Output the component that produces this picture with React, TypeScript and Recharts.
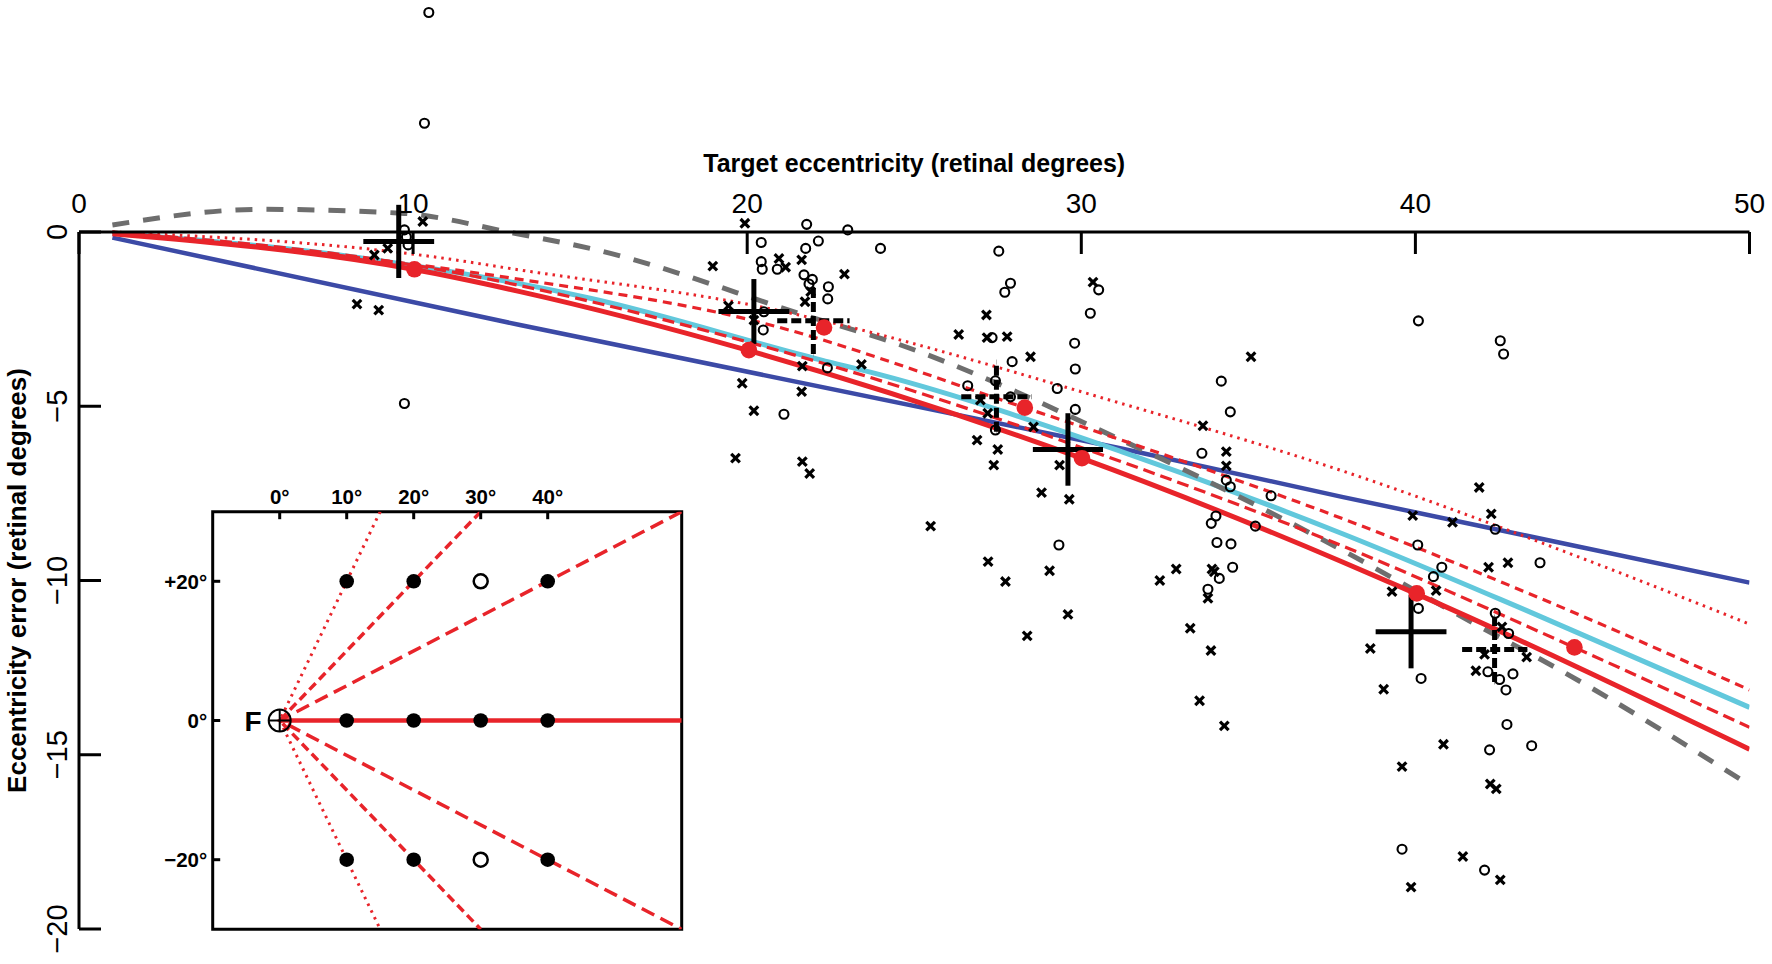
import React from 'react';
import { ComposedChart, Line, Scatter, XAxis, YAxis, ErrorBar, ReferenceArea } from 'recharts';

const FONT = '"Liberation Sans", Arial, Helvetica, sans-serif';

// ---------- main chart axes ----------
const xTicks = [0, 10, 20, 30, 40, 50];
const yTicks = [0, -5, -10, -15, -20];

// ---------- model curves (x = target eccentricity, y = eccentricity error) ----------
const blueLine = [[1, -0.16], [13.2, -2.67], [31.2, -6.21], [37.8, -7.6], [50, -10.06]];
const redSolidLine = [[1, -0.05], [10, -1.07], [13.2, -1.71], [20, -3.39], [30, -6.49], [37.8, -9.46], [40, -10.37], [50, -14.84]];
const redDottedLine = [[1, 0], [10.6, -0.71], [13.2, -1.09], [20.1, -2.09], [31.2, -4.92], [37.8, -6.85], [45.5, -9.55], [50, -11.25]];
const redShortDashLine = [[1, 0], [13, -1.33], [20, -2.5], [28.3, -5.04], [31.2, -5.97], [37.75, -8.2], [44.33, -10.75], [50, -13.14]];
const redLongDashLine = [[1, 0], [10, -0.95], [20, -3.15], [31.2, -6.59], [37.75, -8.98], [44.78, -11.93], [50, -14.21]];
const cyanLine = [[1, -0.03], [8.5, -0.75], [15.3, -1.9], [22.2, -3.67], [24, -4.1], [31.2, -6.3], [37.8, -8.65], [43.3, -10.85], [50, -13.64]];
const grayDashedLine = [[1, 0.2], [5.45, 0.65], [9.64, 0.54], [13, -0.03], [15.3, -0.47], [22.2, -2.53], [24, -3.05], [31.2, -5.97], [37.15, -8.79], [41.94, -11.33], [44.33, -12.57], [50, -15.87]];

// ---------- red mean dots ----------
const redDots = [[10.04, -1.07], [20.05, -3.39], [22.3, -2.74], [28.31, -5.04], [30.02, -6.49], [40.04, -10.37], [44.76, -11.92]];

// ---------- means with SD crosses: [x, y, sdX, sdY] ----------
const solidCrosses = [[9.57, -0.27, 1.06, 1.05], [20.2, -2.28, 1.06, 0.93], [29.6, -6.24, 1.05, 1.04], [39.87, -11.47, 1.06, 1.05]];
const dashedCrosses = [[21.98, -2.55, 1.08, 0.95], [27.46, -4.73, 1.05, 1.0], [42.37, -11.98, 0.97, 0.93]];

// ---------- individual responses ----------
const openCircles = [
  [10.47, 6.3], [10.34, 3.12], [9.74, 0.06], [9.8, -0.14], [9.85, -0.37], [9.74, -4.92],
  [21.78, 0.22], [23.01, 0.06], [20.42, -0.3], [22.13, -0.26], [21.75, -0.47], [23.99, -0.47], [20.42, -0.85], [20.45, -1.07],
  [20.9, -1.07], [21.7, -1.23], [21.95, -1.36], [22.43, -1.57], [21.85, -1.49], [22.41, -1.92], [20.5, -2.29], [20.48, -2.81],
  [22.4, -3.9], [21.1, -5.23],
  [27.53, -0.55], [27.88, -1.47], [27.71, -1.73], [30.52, -1.66], [30.27, -2.33], [27.33, -3.03], [29.8, -3.19], [27.93, -3.72],
  [29.82, -3.93], [27.43, -4.27], [26.6, -4.41], [29.28, -4.49], [27.88, -4.73], [29.82, -5.09], [27.43, -5.68], [29.33, -8.98],
  [34.19, -4.28], [34.46, -5.16], [33.61, -6.35], [34.34, -7.12], [34.46, -7.31], [35.68, -7.57], [34.03, -8.15], [33.89, -8.36],
  [35.21, -8.44], [34.06, -8.91], [34.48, -8.95], [34.53, -9.62], [34.13, -9.94], [33.79, -10.25],
  [40.09, -2.55], [42.54, -3.12], [42.64, -3.5], [42.39, -8.53], [40.07, -8.98], [43.73, -9.49], [40.79, -9.62], [40.54, -9.89],
  [40.09, -10.8], [42.39, -10.94], [42.79, -11.52], [42.17, -12.62], [42.52, -12.84], [42.92, -12.68], [40.17, -12.81], [42.71, -13.14],
  [42.74, -14.13], [42.22, -14.86], [43.48, -14.74], [39.6, -17.71], [42.07, -18.31],
];
const crossMarks = [
  [10.29, 0.3], [9.24, -0.47], [8.84, -0.66], [8.32, -2.07], [8.97, -2.24],
  [19.93, 0.25], [18.97, -0.98], [20.95, -0.76], [21.15, -1.01], [21.63, -0.8], [22.91, -1.21], [21.9, -1.71], [21.73, -2.0],
  [19.44, -2.12], [20.2, -2.53], [23.42, -3.8], [21.65, -3.85], [19.85, -4.34], [21.63, -4.58], [20.2, -5.13], [19.65, -6.49],
  [21.65, -6.59], [21.87, -6.93],
  [30.35, -1.44], [27.16, -2.38], [26.33, -2.94], [27.18, -3.03], [27.78, -3.0], [28.48, -3.58], [26.98, -4.82], [27.2, -5.2],
  [28.57, -5.59], [26.88, -5.97], [27.5, -6.24], [27.38, -6.69], [29.35, -6.69], [28.81, -7.48], [29.64, -7.67], [25.49, -8.44],
  [27.21, -9.46], [29.05, -9.72], [27.73, -10.03], [29.6, -10.97], [28.38, -11.59],
  [35.08, -3.58], [33.64, -5.56], [34.34, -6.3], [34.34, -6.71], [32.84, -9.67], [33.91, -9.67], [33.98, -9.75], [32.35, -10.0],
  [33.79, -10.51], [33.26, -11.37], [33.88, -12.01], [33.54, -13.45], [34.28, -14.17],
  [41.91, -7.33], [42.27, -8.09], [39.92, -8.14], [41.11, -8.33], [42.19, -9.62], [42.77, -9.49], [39.3, -10.32], [40.62, -10.29],
  [42.59, -11.33], [38.65, -11.95], [42.07, -12.12], [43.33, -12.2], [41.81, -12.59], [39.05, -13.12], [40.84, -14.7], [39.6, -15.34],
  [42.24, -15.84], [42.42, -15.98], [41.42, -17.92], [42.54, -18.59], [39.87, -18.8],
];

// ---------- inset (target layout in visual field) ----------
const insetXTicks = [0, 10, 20, 30, 40];
const insetYTicks = [20, 0, -20];
const fixation = [[0, 0]];
const filledTargets = [[10, 20], [20, 20], [40, 20], [10, 0], [20, 0], [30, 0], [40, 0], [10, -20], [20, -20], [40, -20]];
const openTargets = [[30, 20], [30, -20]];
const meridian0 = [[0, 0], [60, 0]];
const meridianDotted = [[15, 30], [0, 0], [15, -30]];
const meridianShortDash = [[30, 30], [0, 0], [30, -30]];
const meridianLongDash = [[60, 30], [0, 0], [60, -30]];

// ---------- helpers ----------
const pts = (a: number[][]) => a.map(([x, y]) => ({ x, y }));
const crossPts = (a: number[][]) => a.map(([x, y, ex, ey]) => ({ x, y, ex, ey }));

const RED = '#e8242a';
const BLUE = '#3c4aa6';
const CYAN = '#62c8dc';
const GRAY = '#6e6e6e';

const OpenCircle = (p: any) => (
  <circle cx={p.cx} cy={p.cy} r={4.5} fill="none" stroke="#000" strokeWidth={2.1} />
);
const XMark = (p: any) => {
  const s = 4.3;
  return (
    <g stroke="#000" strokeWidth={3.2}>
      <line x1={p.cx - s} y1={p.cy - s} x2={p.cx + s} y2={p.cy + s} />
      <line x1={p.cx - s} y1={p.cy + s} x2={p.cx + s} y2={p.cy - s} />
    </g>
  );
};
const RedDot = (p: any) => <circle cx={p.cx} cy={p.cy} r={8.3} fill={RED} />;
const NoMark = () => <g />;
const FilledTarget = (p: any) => <circle cx={p.cx} cy={p.cy} r={7.3} fill="#000" />;
const OpenTarget = (p: any) => <circle cx={p.cx} cy={p.cy} r={7} fill="#fff" stroke="#000" strokeWidth={2.5} />;
const Fixation = (p: any) => (
  <g>
    <circle cx={p.cx} cy={p.cy} r={11} fill="none" stroke="#000" strokeWidth={2} />
    <line x1={p.cx - 11} y1={p.cy} x2={p.cx + 11} y2={p.cy} stroke="#000" strokeWidth={2} />
    <line x1={p.cx} y1={p.cy - 11} x2={p.cx} y2={p.cy + 11} stroke="#000" strokeWidth={2} />
    <text x={p.cx - 18} y={p.cy + 10} textAnchor="end" fontSize={28} fontWeight="bold" fill="#000" fontFamily={FONT}>F</text>
  </g>
);

const YTick = (p: any) => {
  const v = p.payload.value;
  const s = v < 0 ? `\u2212${Math.abs(v)}` : `${v}`;
  return (
    <text x={p.x} y={p.y} transform={`rotate(-90 ${p.x} ${p.y})`} textAnchor="middle" dominantBaseline="central"
      fontSize={29} fill="#000" fontFamily={FONT}>{s}</text>
  );
};
const degFmt = (v: number) => (v > 0 ? `+${v}°` : v < 0 ? `\u2212${Math.abs(v)}°` : `${v}°`);
const degFmtX = (v: number) => `${v}°`;

const lineCommon = { dot: false, activeDot: false, isAnimationActive: false, dataKey: 'y', legendType: 'none' as const };

export default function App() {
  const layer: React.CSSProperties = { position: 'absolute', left: 0, top: 0 };
  return (
    <div style={{ position: 'absolute', left: 0, top: 0, width: 1772, height: 964, background: '#fff', fontFamily: FONT, overflow: 'hidden' }}>
      {/* data layer */}
      <div style={layer}>
        <ComposedChart width={1772} height={964} margin={{ top: 2, right: 22.5, bottom: 35, left: 79 }}>
          <XAxis type="number" dataKey="x" domain={[0, 50]} hide allowDataOverflow height={0} />
          <YAxis type="number" dataKey="y" domain={[-20, 6.6]} hide allowDataOverflow width={0} />
          <Scatter data={pts(openCircles)} shape={OpenCircle} isAnimationActive={false} />
          <Scatter data={pts(crossMarks)} shape={XMark} isAnimationActive={false} />
          <Line {...lineCommon} data={pts(blueLine)} type="linear" stroke={BLUE} strokeWidth={4.5} />
          <Line {...lineCommon} data={pts(cyanLine)} type="monotone" stroke={CYAN} strokeWidth={5} />
          <Line {...lineCommon} data={pts(grayDashedLine)} type="monotone" stroke={GRAY} strokeWidth={5} strokeDasharray="17 14" />
          <Line {...lineCommon} data={pts(redDottedLine)} type="monotone" stroke={RED} strokeWidth={3} strokeDasharray="2.5 5" />
          <Line {...lineCommon} data={pts(redShortDashLine)} type="monotone" stroke={RED} strokeWidth={3.2} strokeDasharray="9 6" />
          <Line {...lineCommon} data={pts(redLongDashLine)} type="monotone" stroke={RED} strokeWidth={3.2} strokeDasharray="12 6" />
          <Line {...lineCommon} data={pts(redSolidLine)} type="monotone" stroke={RED} strokeWidth={5} />
          <Scatter data={crossPts(solidCrosses)} shape={NoMark} isAnimationActive={false}>
            <ErrorBar dataKey="ex" direction="x" width={0} stroke="#000" strokeWidth={5} />
            <ErrorBar dataKey="ey" direction="y" width={0} stroke="#000" strokeWidth={5} />
          </Scatter>
          <Scatter data={crossPts(dashedCrosses)} shape={NoMark} isAnimationActive={false}>
            <ErrorBar dataKey="ex" direction="x" width={0} stroke="#000" strokeWidth={5} strokeDasharray="10 4" />
            <ErrorBar dataKey="ey" direction="y" width={0} stroke="#000" strokeWidth={5} strokeDasharray="10 4" />
          </Scatter>
          <Scatter data={pts(redDots)} shape={RedDot} isAnimationActive={false} />
        </ComposedChart>
      </div>

      {/* axes layer */}
      <div style={layer}>
        <ComposedChart width={1772} height={964} margin={{ top: 140, right: 22.5, bottom: 35, left: 9 }}>
          <XAxis type="number" dataKey="x" orientation="top" domain={[0, 50]} ticks={xTicks} interval={0} allowDataOverflow
            height={92} tickSize={-22} tickMargin={41}
            axisLine={{ stroke: '#000', strokeWidth: 3 }} tickLine={{ stroke: '#000', strokeWidth: 3 }}
            tick={{ fill: '#000', fontSize: 28, fontFamily: FONT }}
            label={{ value: 'Target eccentricity (retinal degrees)', position: 'insideTop', offset: 14,
              style: { fontWeight: 'bold', fontSize: 25, fill: '#000', fontFamily: FONT } }} />
          <YAxis type="number" dataKey="y" domain={[-20, 0]} ticks={yTicks} interval={0} allowDataOverflow
            width={70} tickSize={-22} tickMargin={44}
            axisLine={{ stroke: '#000', strokeWidth: 3 }} tickLine={{ stroke: '#000', strokeWidth: 3 }}
            tick={<YTick />}
            label={{ value: 'Eccentricity error (retinal degrees)', angle: -90, position: 'insideLeft', offset: 8,
              style: { textAnchor: 'middle', fontWeight: 'bold', fontSize: 26, fill: '#000', fontFamily: FONT } }} />
        </ComposedChart>
      </div>

      {/* inset layer */}
      <div style={layer}>
        <ComposedChart width={1772} height={964} margin={{ top: 471.7, right: 1090.3, bottom: 34.7, left: 152.7 }}>
          <XAxis type="number" dataKey="x" orientation="top" domain={[-10, 60]} ticks={insetXTicks} interval={0} allowDataOverflow
            height={40} tickSize={-7.5} tickMargin={15} axisLine={false}
            tickLine={{ stroke: '#000', strokeWidth: 3 }} tickFormatter={degFmtX}
            tick={{ fill: '#000', fontSize: 20.5, fontWeight: 'bold', fontFamily: FONT }} />
          <YAxis type="number" dataKey="y" domain={[-30, 30]} ticks={insetYTicks} interval={0} allowDataOverflow
            width={60} tickSize={-7.5} tickMargin={13} axisLine={false}
            tickLine={{ stroke: '#000', strokeWidth: 3 }} tickFormatter={degFmt}
            tick={{ fill: '#000', fontSize: 20.5, fontWeight: 'bold', fontFamily: FONT }} />
          <ReferenceArea x1={-10} x2={60} y1={-30} y2={30} fill="none" stroke="#000" strokeWidth={3} />
          <Scatter data={pts(fixation)} shape={Fixation} isAnimationActive={false} />
          <Line {...lineCommon} data={pts(meridianDotted)} type="linear" stroke={RED} strokeWidth={3} strokeDasharray="2.5 5" />
          <Line {...lineCommon} data={pts(meridianShortDash)} type="linear" stroke={RED} strokeWidth={3.5} strokeDasharray="9 5" />
          <Line {...lineCommon} data={pts(meridianLongDash)} type="linear" stroke={RED} strokeWidth={3.5} strokeDasharray="14 7" />
          <Line {...lineCommon} data={pts(meridian0)} type="linear" stroke={RED} strokeWidth={4.5} />
          <Scatter data={pts(filledTargets)} shape={FilledTarget} isAnimationActive={false} />
          <Scatter data={pts(openTargets)} shape={OpenTarget} isAnimationActive={false} />
        </ComposedChart>
      </div>
    </div>
  );
}
